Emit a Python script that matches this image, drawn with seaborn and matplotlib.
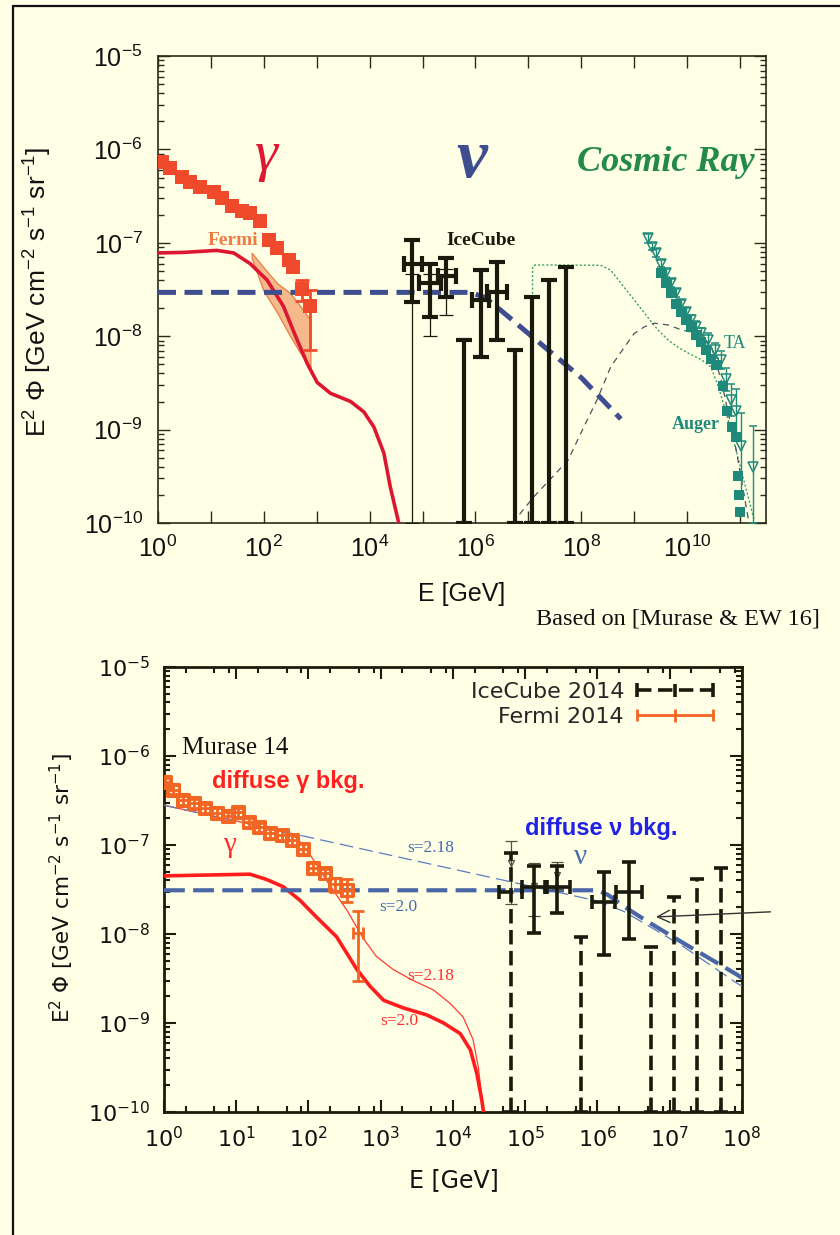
import numpy as np
import matplotlib
matplotlib.use("Agg")
import matplotlib.pyplot as plt
from matplotlib import ticker
from matplotlib.lines import Line2D
from matplotlib.container import ErrorbarContainer
from matplotlib.legend_handler import HandlerErrorbar
import seaborn as sns

########## DATOS PANEL SUPERIOR (Murase & EW 16) ##########

# fondo difuso gamma (Fermi), cuadrados llenos
egb_E = [1.17, 1.70, 2.82, 4.04, 6.24, 11.2, 16.2, 25.1, 38.5, 55.0, 85.1, 123, 178, 295, 363, 525, 741]
egb_flux = [7.4e-7, 6.3e-7, 5.1e-7, 4.5e-7, 4.0e-7, 3.5e-7, 3.0e-7, 2.5e-7, 2.2e-7, 2.1e-7,
            1.7e-7, 1.07e-7, 8.7e-8, 6.6e-8, 5.5e-8, 3.2e-8, 2.1e-8]
egb_err_E = [525, 741]
egb_err_flux = [3.2e-8, 2.1e-8]
egb_err_lo = [2.4e-8, 7.1e-9]
egb_err_hi = [4.0e-8, 3.1e-8]

# banda Fermi
band_E = [59, 98, 178, 316, 490, 759]
band_hi = [7.8e-8, 5.5e-8, 3.7e-8, 2.9e-8, 2.1e-8, 1.5e-8]
band_lo = [6.9e-8, 3.1e-8, 1.8e-8, 1.0e-8, 6.6e-9, 4.7e-9]

# modelo gamma (linea roja)
gam_top_E = [1, 3.0, 12.9, 26.9, 55, 115, 234, 427, 661, 1020, 1820, 4370, 7760, 1.2e4, 1.86e4, 2.45e4, 3.55e4]
gam_top_flux = [7.8e-8, 7.9e-8, 8.3e-8, 7.8e-8, 6.0e-8, 4.0e-8, 2.1e-8, 9.1e-9, 5.1e-9, 3.2e-9,
                2.45e-9, 2.0e-9, 1.55e-9, 1.07e-9, 5.6e-10, 2.45e-10, 1.0e-10]

# modelo neutrinos (azul a trazos)
nu_top_E = [1, 8e5, 1.5e6, 3e6, 1e7, 1e8, 5.6e8]
nu_top_flux = [2.95e-8, 2.95e-8, 2.6e-8, 1.9e-8, 1.07e-8, 3.6e-9, 1.3e-9]

# IceCube (puntos con cruz)
ic_top_E = [6.3e4, 1.38e5, 2.8e5, 1.26e6, 2.57e6]
ic_top_Elo = [4.5e4, 8.5e4, 2.0e5, 8.7e5, 1.66e6]
ic_top_Ehi = [9.8e4, 2.2e5, 4.2e5, 1.8e6, 4.0e6]
ic_top_flux = [6.0e-8, 3.7e-8, 4.4e-8, 2.45e-8, 3.0e-8]
ic_top_lo = [2.35e-8, 1.6e-8, 2.6e-8, 6.0e-9, 9.1e-9]
ic_top_hi = [1.07e-7, 6.0e-8, 6.9e-8, 5.1e-8, 6.2e-8]
# barras hasta el eje
ic_top_ul_E = [6.0e5, 5.5e6, 1.15e7, 2.45e7, 5.1e7]
ic_top_ul_flux = [9.1e-9, 7.1e-9, 2.6e-8, 4.0e-8, 5.5e-8]
# otro set de IceCube, barras finas
ic_thin_E = [6.3e4, 1.38e5, 2.8e5]
ic_thin_flux = [3.0e-8, 3.2e-8, 3.5e-8]
ic_thin_lo = [1.0e-10, 1.0e-8, 1.7e-8]
ic_thin_hi = [4.6e-8, 4.6e-8, 5.2e-8]

# rayos cosmicos: modelo verde punteado y modelo gris
cr_dot_E = [1.2e7, 1.2e7, 1.35e7, 2.3e8, 3.6e8, 5.6e8, 1e9, 1.8e9, 2.8e9, 4.4e9, 6.8e9, 1.05e10,
            1.86e10, 2.8e10, 3.9e10, 6.0e10, 1.05e11, 1.86e11]
cr_dot_flux = [1e-10, 5.6e-8, 5.8e-8, 5.75e-8, 5.1e-8, 3.7e-8, 2.45e-8, 1.6e-8, 1.17e-8, 9.1e-9,
               7.6e-9, 6.6e-9, 5.6e-9, 4.7e-9, 2.9e-9, 1.26e-9, 3.7e-10, 1.07e-10]
cr_dash_E = [5.0e6, 1.26e7, 5.6e7, 1.12e8, 2.0e8, 3.6e8, 6.5e8, 1e9, 1.55e9, 2.4e9, 4.4e9, 7.8e9,
             1.6e10, 2.8e10, 4.4e10, 8.5e10, 1.45e11]
cr_dash_flux = [1e-10, 1.9e-10, 4.7e-10, 1.07e-9, 2.1e-9, 4.7e-9, 7.6e-9, 1.07e-8, 1.26e-8, 1.38e-8,
                1.32e-8, 1.17e-8, 1.07e-8, 8.1e-9, 3.4e-9, 6.0e-10, 1.07e-10]

# TA (triangulos) y Auger (cuadrados)
ta_E = [1.8e9, 2.2e9, 2.6e9, 3.2e9, 4.0e9, 5.0e9, 6.2e9, 7.8e9, 9.5e9, 1.2e10, 1.48e10, 1.86e10,
        2.45e10, 3.3e10, 4.4e10, 5.5e10, 6.8e10, 8.5e10, 1.05e11, 1.74e11]
ta_flux = [1.12e-7, 9.1e-8, 7.8e-8, 6.0e-8, 4.7e-8, 3.7e-8, 2.9e-8, 2.2e-8, 1.8e-8, 1.48e-8, 1.26e-8,
           1.07e-8, 9.1e-9, 7.1e-9, 5.6e-9, 3.5e-9, 2.1e-9, 1.6e-9, 6.6e-10, 4.0e-10]
ta_lo = [1.0e-7, 8.3e-8, 7.1e-8, 5.5e-8, 4.3e-8, 3.4e-8, 2.65e-8, 2.0e-8, 1.6e-8, 1.3e-8, 1.1e-8,
         9.2e-9, 7.7e-9, 5.9e-9, 4.5e-9, 2.6e-9, 1.4e-9, 9e-10, 2e-10, 1e-10]
ta_hi = [1.25e-7, 1.0e-7, 8.6e-8, 6.6e-8, 5.2e-8, 4.1e-8, 3.2e-8, 2.45e-8, 2.0e-8, 1.68e-8, 1.44e-8,
         1.24e-8, 1.07e-8, 8.5e-9, 7.0e-9, 4.6e-9, 3.1e-9, 2.7e-9, 1.5e-9, 1.1e-9]
auger_E = [3.2e9, 4.0e9, 5.0e9, 6.2e9, 7.8e9, 9.5e9, 1.2e10, 1.48e10, 1.86e10, 2.3e10, 2.8e10, 3.55e10,
           4.8e10, 5.75e10, 7.2e10, 8.5e10, 9.1e10, 9.5e10, 1.0e11]
auger_flux = [4.7e-8, 3.7e-8, 2.9e-8, 2.2e-8, 1.8e-8, 1.48e-8, 1.26e-8, 1.02e-8, 8.7e-9, 7.1e-9, 5.75e-9,
              4.9e-9, 2.9e-9, 1.6e-9, 1.07e-9, 8.3e-10, 3.2e-10, 2.0e-10, 1.3e-10]

########## DATOS PANEL INFERIOR (Murase 14) ##########

fermi14_E = [1.03, 1.35, 1.86, 2.57, 3.7, 5.4, 7.8, 10.7, 14.8, 20.4, 29.5, 42.7, 58.9, 85, 117, 170, 234, 339, 490]
fermi14_Elo = [0.88, 1.15, 1.58, 2.19, 3.15, 4.6, 6.6, 9.1, 12.6, 17.4, 25.1, 36.3, 50.1, 72.4, 99.6, 145, 199, 289, 417]
fermi14_Ehi = [1.21, 1.59, 2.19, 3.02, 4.35, 6.3, 9.2, 12.6, 17.4, 24.0, 34.7, 50.2, 69.2, 99.9, 137, 200, 275, 398, 576]
fermi14_flux = [5.1e-7, 4.2e-7, 3.2e-7, 2.95e-7, 2.6e-7, 2.3e-7, 2.1e-7, 2.35e-7, 1.8e-7, 1.6e-7, 1.35e-7,
                1.3e-7, 1.15e-7, 9.1e-8, 5.5e-8, 4.8e-8, 3.6e-8, 3.1e-8, 1.02e-8]
fermi14_lo = [4.5e-7, 3.7e-7, 2.8e-7, 2.6e-7, 2.3e-7, 2.0e-7, 1.85e-7, 2.07e-7, 1.58e-7, 1.41e-7, 1.19e-7,
              1.14e-7, 1.01e-7, 8.0e-8, 4.8e-8, 4.2e-8, 2.95e-8, 2.3e-8, 3.0e-9]
fermi14_hi = [5.7e-7, 4.7e-7, 3.6e-7, 3.3e-7, 2.9e-7, 2.6e-7, 2.35e-7, 2.63e-7, 2.02e-7, 1.79e-7, 1.51e-7,
              1.46e-7, 1.29e-7, 1.02e-7, 6.2e-8, 5.4e-8, 4.3e-8, 4.1e-8, 1.8e-8]
n_cuadrados = 18   # el ultimo punto no tiene cuadrado

# modelos gamma s=2.0 (grueso) y s=2.18 (fino)
gam20_E = [1, 4.0, 15.5, 26.3, 44.7, 75.9, 129, 245, 468, 708, 1096, 2042, 4365, 7413, 1.26e4, 1.74e4, 2.14e4, 2.51e4, 2.7e4]
gam20_flux = [4.5e-8, 4.6e-8, 4.7e-8, 4.1e-8, 3.4e-8, 2.4e-8, 1.55e-8, 9.3e-9, 4.0e-9, 2.6e-9, 1.8e-9,
              1.48e-9, 1.23e-9, 1.0e-9, 7.6e-10, 5.0e-10, 2.7e-10, 1.35e-10, 9e-11]
gam218_E = [1, 10, 39.8, 69.2, 100, 178, 339, 575, 871, 1479, 2818, 5370, 9120, 1.38e4, 1.9e4, 2.24e4, 2.7e4]
gam218_flux = [2.8e-7, 1.86e-7, 1.45e-7, 1.2e-7, 8.3e-8, 4.0e-8, 1.86e-8, 8.9e-9, 5.6e-9, 4.0e-9, 3.0e-9,
               2.35e-9, 1.66e-9, 1.17e-9, 6.5e-10, 3.2e-10, 9e-11]

# modelos neutrinos
nu20_E = [1, 1e6, 1.4e6, 2.3e6, 5.4e6, 1.55e7, 8.5e7, 1e8]
nu20_flux = [3.1e-8, 3.1e-8, 2.75e-8, 2.05e-8, 1.32e-8, 7.9e-9, 3.5e-9, 3.2e-9]
nu218_E = [1, 1e6, 2.3e6, 5.4e6, 1.55e7, 8.5e7, 1e8]
nu218_flux = [2.8e-7, 2.35e-8, 1.8e-8, 1.2e-8, 7.2e-9, 2.8e-9, 2.6e-9]

# IceCube 2014
ic14_E = [1.32e5, 2.75e5, 1.23e6, 2.7e6]
ic14_Elo = [8.9e4, 1.9e5, 8.5e5, 1.8e6]
ic14_Ehi = [2.0e5, 4.2e5, 1.74e6, 4.1e6]
ic14_flux = [3.4e-8, 3.4e-8, 2.3e-8, 3.0e-8]
ic14_lo = [1.02e-8, 1.7e-8, 5.75e-9, 8.9e-9]
ic14_hi = [5.75e-8, 5.75e-8, 5.0e-8, 6.5e-8]
ic14_A_E = [6.3e4]
ic14_A_Elo = [4.3e4]
ic14_A_Ehi = [8.9e4]
ic14_A_flux = [3.0e-8]
ic14_A_hi = [8.1e-8]
ic14_ul_E = [5.9e5, 5.5e6, 1.15e7, 2.4e7, 5.1e7]
ic14_ul_flux = [9.3e-9, 7.2e-9, 2.6e-8, 4.1e-8, 5.5e-8]
# segundo set fino con triangulos
ic14b_E = [6.3e4, 1.32e5, 2.75e5]
ic14b_flux = [6.2e-8, 3.5e-8, 4.6e-8]
ic14b_lo = [2.2e-8, 1.6e-8, 3.2e-8]
ic14b_hi = [1.1e-7, 6.2e-8, 6.4e-8]

piso = 1e-10
flecha_E = [5.9e6, 2.7e8]
flecha_flux = [1.55e-8, 1.78e-8]

########## ESTILO ##########
CREMA = '#ffffe6'
sns.set_theme(style='ticks', rc={'axes.facecolor': CREMA, 'figure.facecolor': CREMA,
                                 'savefig.facecolor': CREMA})
plt.rcParams['font.family'] = ['Liberation Sans', 'DejaVu Sans']
plt.rcParams['axes.unicode_minus'] = False
plt.rcParams['mathtext.fontset'] = 'custom'
plt.rcParams['mathtext.rm'] = 'Liberation Sans'
plt.rcParams['mathtext.it'] = 'Liberation Sans:italic'

SERIF = 'Liberation Serif'
NEGRO = '#1a1a0c'


def asim(v, lo, hi):
    v = np.asarray(v, float)
    return [v - np.asarray(lo, float), np.asarray(hi, float) - v]


def fmt_pot(v, pos, solo_pares=False):
    e = int(round(np.log10(v)))
    if solo_pares and e % 2:
        return ''
    return r'$\mathdefault{10^{%d}}$' % e


fig = plt.figure(figsize=(8.4, 12.35), dpi=100)
ax1 = fig.add_axes([0.1881, 0.5765, 0.7238, 0.3781])
ax2 = fig.add_axes([0.1952, 0.0996, 0.6881, 0.3603])

for ax in (ax1, ax2):
    ax.set_xscale('log')
    ax.set_yscale('log')
    ax.set_facecolor(CREMA)

######### 1: panel superior #########
ax = ax1
ax.set_xlim(1, 3.1e11)
ax.set_ylim(1e-10, 1e-5)

ax.fill_between(band_E, band_lo, band_hi, color='#f6b98c', edgecolor='#e8844c', lw=1, zorder=2)
sns.lineplot(x=gam_top_E, y=gam_top_flux, ax=ax, color='#dc1830', lw=2.6, sort=False,
             estimator=None, zorder=3)
sns.lineplot(x=cr_dot_E, y=cr_dot_flux, ax=ax, color='#3aa060', lw=1.0, sort=False,
             estimator=None, linestyle=(0, (1.5, 1.5)), zorder=3)
sns.lineplot(x=cr_dash_E, y=cr_dash_flux, ax=ax, color='#505060', lw=0.9, sort=False,
             estimator=None, linestyle=(0, (5, 4)), zorder=3)
sns.lineplot(x=nu_top_E, y=nu_top_flux, ax=ax, color='#3e4d8e', lw=3.6, sort=False,
             estimator=None, linestyle=(0, (3.6, 1.7)), zorder=4)

sns.scatterplot(x=egb_E, y=egb_flux, ax=ax, marker='s', s=90, color='#ef4a2c',
                edgecolor='#ef4a2c', linewidth=0, zorder=5)
ax.errorbar(egb_err_E, egb_err_flux, yerr=asim(egb_err_flux, egb_err_lo, egb_err_hi),
            fmt='none', ecolor='#ef4a2c', elinewidth=2, capsize=5, capthick=2, zorder=5)

# IceCube
ax.errorbar(ic_thin_E, ic_thin_flux, yerr=asim(ic_thin_flux, ic_thin_lo, ic_thin_hi),
            fmt='none', ecolor=NEGRO, elinewidth=0.9, capsize=5, capthick=0.9, zorder=5)
ax.errorbar(ic_top_E, ic_top_flux, yerr=asim(ic_top_flux, ic_top_lo, ic_top_hi),
            xerr=asim(ic_top_E, ic_top_Elo, ic_top_Ehi), fmt='none', ecolor=NEGRO,
            elinewidth=3, capsize=5.5, capthick=3, zorder=6)
ic_ul = np.asarray(ic_top_ul_flux)
ax.errorbar(ic_top_ul_E, ic_ul, yerr=[ic_ul - piso, np.zeros_like(ic_ul)], fmt='none',
            ecolor=NEGRO, elinewidth=3, capsize=5.5, capthick=3, zorder=6)

# rayos cosmicos
ax.errorbar(ta_E, ta_flux, yerr=asim(ta_flux, ta_lo, ta_hi), fmt='v', ms=6.5, mfc='none',
            mec='#1f8a7a', mew=1.1, ecolor='#1f8a7a', elinewidth=1, capsize=3, zorder=6)
sns.scatterplot(x=auger_E, y=auger_flux, ax=ax, marker='s', s=45, color='#1f8a7a',
                edgecolor='#1f8a7a', linewidth=0, zorder=6)

for spine in ax.spines.values():
    spine.set_color('#2a2a1a')
    spine.set_linewidth(1.2)
ax.xaxis.set_major_locator(ticker.LogLocator(base=10, numticks=20))
ax.xaxis.set_minor_locator(ticker.NullLocator())
ax.xaxis.set_major_formatter(ticker.FuncFormatter(lambda v, p: fmt_pot(v, p, True)))
ax.yaxis.set_major_locator(ticker.LogLocator(base=10, numticks=20))
ax.yaxis.set_minor_locator(ticker.LogLocator(base=10, subs=np.arange(2, 10), numticks=20))
ax.yaxis.set_minor_formatter(ticker.NullFormatter())
ax.yaxis.set_major_formatter(ticker.FuncFormatter(fmt_pot))
ax.tick_params(which='both', direction='in', top=True, right=True, color='#2a2a1a', width=1.0,
               labelsize=18, labelfontfamily='Liberation Sans', labelcolor='#111')
ax.tick_params(which='major', length=8.5)
ax.tick_params(which='minor', length=4.5)
ax.tick_params(axis='y', pad=11)
ax.tick_params(axis='x', pad=9)
ax.set_xlabel('')
ax.set_ylabel('')

ax.text(0.178, 0.786, 'γ', transform=ax.transAxes, color='#dd1830', fontsize=42,
        family=SERIF, style='italic', ha='center', va='center')
ax.text(0.516, 0.777, 'ν', transform=ax.transAxes, color='#3e4d8e', fontsize=50,
        family=SERIF, style='italic', weight='bold', ha='center', va='center')
ax.text(0.982, 0.773, 'Cosmic Ray', transform=ax.transAxes, color='#238a4c', fontsize=26,
        family=SERIF, style='italic', weight='bold', ha='right', va='center')
ax.text(0.123, 0.606, 'Fermi', transform=ax.transAxes, color='#ee7a44', fontsize=14,
        family=SERIF, weight='bold', ha='center', va='center')
ax.text(0.531, 0.604, 'IceCube', transform=ax.transAxes, color=NEGRO, fontsize=14,
        family=SERIF, weight='bold', ha='center', va='center')
ax.text(0.949, 0.385, 'TA', transform=ax.transAxes, color='#1f8a7a', fontsize=13,
        family=SERIF, ha='center', va='center')
ax.text(0.885, 0.210, 'Auger', transform=ax.transAxes, color='#1f8a7a', fontsize=13,
        family=SERIF, weight='bold', ha='center', va='center')

fig.text(38 / 840, 1 - 292 / 1235, r'E$^2$ Φ [GeV cm$^{-2}$ s$^{-1}$ sr$^{-1}$]', rotation=90,
         ha='center', va='center', fontsize=19, family='Liberation Sans', color='#111')
fig.text(462 / 840, 1 - 594 / 1235, 'E [GeV]', ha='center', va='center', fontsize=18,
         family='Liberation Sans', color='#111')
fig.text(820 / 840, 1 - 619 / 1235, 'Based on [Murase & EW 16]', ha='right', va='center',
         fontsize=17.5, family=SERIF, color='#111')

######### 2: panel inferior #########
ax = ax2
ax.set_xlim(1, 1e8)
ax.set_ylim(1e-10, 1e-5)

sns.lineplot(x=gam218_E, y=gam218_flux, ax=ax, color='#ff3a30', lw=0.9, sort=False,
             estimator=None, zorder=3)
sns.lineplot(x=gam20_E, y=gam20_flux, ax=ax, color='#ff1c1c', lw=2.6, sort=False,
             estimator=None, zorder=3)
sns.lineplot(x=nu218_E, y=nu218_flux, ax=ax, color='#5b7cc0', lw=0.9, sort=False,
             estimator=None, linestyle=(0, (11, 5)), zorder=3)
sns.lineplot(x=nu20_E, y=nu20_flux, ax=ax, color='#4a66a6', lw=3.0, sort=False,
             estimator=None, linestyle=(0, (5, 2)), zorder=4)

NARANJA = '#f26522'
fermi_eb = ax.errorbar(fermi14_E, fermi14_flux, yerr=asim(fermi14_flux, fermi14_lo, fermi14_hi),
                       xerr=asim(fermi14_E, fermi14_Elo, fermi14_Ehi), fmt='none', ecolor=NARANJA,
                       elinewidth=2.0, capsize=4, capthick=2.0, zorder=5)
sns.scatterplot(x=fermi14_E[:n_cuadrados], y=fermi14_flux[:n_cuadrados], ax=ax, marker='s', s=75,
                facecolor='none', edgecolor=NARANJA, linewidth=2.2, zorder=5)

# IceCube 2014
ax.errorbar(ic14b_E, ic14b_flux, yerr=asim(ic14b_flux, ic14b_lo, ic14b_hi), fmt='v', ms=5,
            mfc='none', mec='#505040', mew=0.9, ecolor='#505040', elinewidth=0.9, capsize=4,
            zorder=5)
ax.errorbar(ic14_E, ic14_flux, yerr=asim(ic14_flux, ic14_lo, ic14_hi),
            xerr=asim(ic14_E, ic14_Elo, ic14_Ehi), fmt='none', ecolor=NEGRO, elinewidth=2.6,
            capsize=5, capthick=2.6, zorder=6)
ic_A = np.asarray(ic14_A_flux)
eb_A = ax.errorbar(ic14_A_E, ic_A, yerr=[ic_A - piso, np.asarray(ic14_A_hi) - ic_A],
                   xerr=asim(ic14_A_E, ic14_A_Elo, ic14_A_Ehi), fmt='none', ecolor=NEGRO,
                   elinewidth=2.6, capsize=5, capthick=2.6, zorder=6)
ic_ul2 = np.asarray(ic14_ul_flux)
eb_ul = ax.errorbar(ic14_ul_E, ic_ul2, yerr=[ic_ul2 - piso, np.zeros_like(ic_ul2)], fmt='none',
                    ecolor=NEGRO, elinewidth=2.6, capsize=5, capthick=2.6, zorder=6)
for c in list(eb_A[2]) + list(eb_ul[2]):
    c.set_linestyle((0, (4, 1.8)))

ax.annotate('', xy=(flecha_E[0], flecha_flux[0]), xytext=(flecha_E[1], flecha_flux[1]),
            arrowprops=dict(arrowstyle='->', color='#333', lw=1.0, mutation_scale=22),
            annotation_clip=False, zorder=7)

for spine in ax.spines.values():
    spine.set_color('#1c1c0c')
    spine.set_linewidth(2)
ax.xaxis.set_major_locator(ticker.LogLocator(base=10, numticks=20))
ax.xaxis.set_minor_locator(ticker.LogLocator(base=10, subs=(2, 5, 8), numticks=20))
ax.xaxis.set_minor_formatter(ticker.NullFormatter())
ax.xaxis.set_major_formatter(ticker.FuncFormatter(fmt_pot))
ax.yaxis.set_major_locator(ticker.LogLocator(base=10, numticks=20))
ax.yaxis.set_minor_locator(ticker.LogLocator(base=10, subs=np.arange(2, 10), numticks=20))
ax.yaxis.set_minor_formatter(ticker.NullFormatter())
ax.yaxis.set_major_formatter(ticker.FuncFormatter(fmt_pot))
ax.tick_params(which='both', direction='in', top=True, right=True, color='#1c1c0c', width=1.5,
               labelsize=16, labelfontfamily='DejaVu Sans', labelcolor='#111')
ax.tick_params(which='major', length=8.5)
ax.tick_params(which='minor', length=4.5)
ax.tick_params(axis='y', pad=10)
ax.tick_params(axis='x', pad=10)
ax.set_xlabel('')
ax.set_ylabel('')

# leyenda estilo gnuplot (texto a la izquierda)
leg_kw = dict(frameon=False, markerfirst=False, handlelength=3.4,
              handletextpad=0.6, borderpad=0, borderaxespad=0, loc='center right',
              prop={'family': 'DejaVu Sans', 'size': 16},
              handler_map={ErrorbarContainer: HandlerErrorbar(xerr_size=1.7, yerr_size=0.3)})
leg1 = ax.legend([eb_A], ['IceCube 2014'], bbox_to_anchor=(0.9498, 0.9438), **leg_kw)
ax.add_artist(leg1)
leg2 = ax.legend([fermi_eb], ['Fermi 2014'], bbox_to_anchor=(0.9498, 0.8876), **leg_kw)
# sin tapas en la barrita vertical del centro (queda una cruz)
for leg in (leg1, leg2):
    for ln in leg.findobj(Line2D):
        if ln.get_marker() == '_':
            ln.set_visible(False)

ax.text(0.031, 0.818, 'Murase 14', transform=ax.transAxes, color='#111', fontsize=18,
        family=SERIF, ha='left', va='center')
ax.text(0.083, 0.742, 'diffuse γ bkg.', transform=ax.transAxes, color='#ff2020', fontsize=17,
        family='Liberation Sans', weight='bold', ha='left', va='center')
ax.text(0.114, 0.600, 'γ', transform=ax.transAxes, color='#ff2a2a', fontsize=21,
        family=SERIF, ha='center', va='center')
ax.text(0.462, 0.593, 's=2.18', transform=ax.transAxes, color='#4a6ab0', fontsize=12.5,
        family=SERIF, ha='center', va='center')
ax.text(0.405, 0.461, 's=2.0', transform=ax.transAxes, color='#4a6ab0', fontsize=12.5,
        family=SERIF, ha='center', va='center')
ax.text(0.462, 0.306, 's=2.18', transform=ax.transAxes, color='#ff3030', fontsize=12.5,
        family=SERIF, ha='center', va='center')
ax.text(0.407, 0.204, 's=2.0', transform=ax.transAxes, color='#ff3030', fontsize=12.5,
        family=SERIF, ha='center', va='center')
ax.text(0.756, 0.638, 'diffuse ν bkg.', transform=ax.transAxes, color='#2222e6', fontsize=17,
        family='Liberation Sans', weight='bold', ha='center', va='center')
ax.text(0.721, 0.572, 'ν', transform=ax.transAxes, color='#4a6ab0', fontsize=21,
        family=SERIF, ha='center', va='center')

fig.text(62 / 840, 1 - 888 / 1235, r'E$^2$ Φ [GeV cm$^{-2}$ s$^{-1}$ sr$^{-1}$]', rotation=90,
         ha='center', va='center', fontsize=15.5, family='DejaVu Sans', color='#111',
         math_fontfamily='dejavusans')
fig.text(454 / 840, 1 - 1180 / 1235, 'E [GeV]', ha='center', va='center', fontsize=17,
         family='DejaVu Sans', color='#111')

# marco negro (izquierda y arriba)
fig.add_artist(Line2D([13 / 840, 13 / 840], [0, 1 - 6 / 1235], transform=fig.transFigure,
                      color='#111', lw=1.6))
fig.add_artist(Line2D([13 / 840, 1], [1 - 6 / 1235, 1 - 6 / 1235], transform=fig.transFigure,
                      color='#111', lw=1.6))

fig.savefig('out.png', dpi=100)
